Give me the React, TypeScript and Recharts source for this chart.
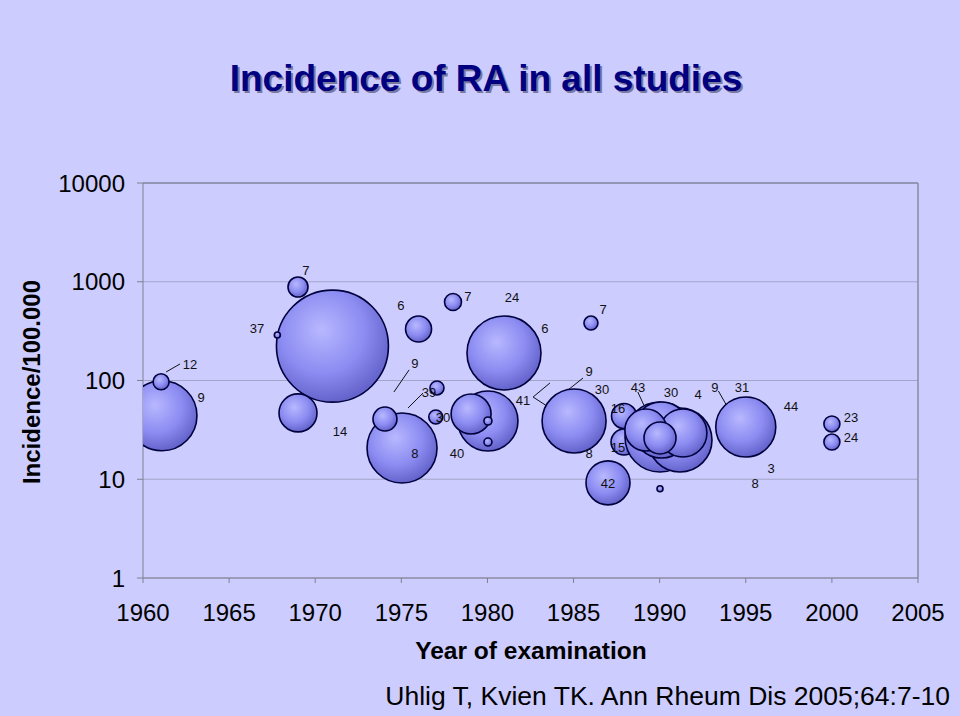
import React from 'react'
import {
  ScatterChart,
  Scatter,
  XAxis,
  YAxis,
  ZAxis,
  CartesianGrid,
  ReferenceLine,
} from 'recharts'

const FONT = '"Liberation Sans", Arial, Helvetica, sans-serif'

// study bubbles: year of examination, incidence per 100.000, relative study size
const bubbleYears = [
  1961.1, 1961.05, 1971.0, 1967.8, 1969.0, 1969.0, 1975.04, 1974.05, 1976.0, 1977.07,
  1977.0, 1978.0, 1980.03, 1979.05, 1980.03, 1980.03, 1980.96, 1986.01, 1985.03, 1987.0,
  1987.93, 1987.93, 1990.02, 1991.18, 1990.1, 1991.35, 1989.2, 1990.02, 1990.02, 1995.0,
  2000.0, 2000.0,
]
const bubbleRates = [
  44, 97, 223, 289, 885, 47, 20.7, 40.7, 332, 84,
  42.7, 624, 38.9, 45.8, 38.9, 23.8, 190, 382, 38.9, 9.2,
  43.7, 23.8, 26.8, 25, 31.5, 29.4, 31.5, 26.2, 8.0, 33.8,
  36.3, 23.8,
]
const bubbleSizes = [
  1225, 64, 3136, 9, 100, 361, 1225, 144, 169, 49,
  49, 72, 900, 400, 16, 16, 1369, 49, 1024, 484,
  156, 169, 1225, 1024, 784, 576, 441, 256, 9, 900,
  64, 64,
]

// number annotations next to the bubbles
const labelTexts = [
  '12', '9', '37', '7', '14', '6', '7', '24', '6', '7',
  '9', '39', '30', '8', '40', '41', '9', '30', '8', '43',
  '30', '4', '16', '15', '42', '9', '31', '44', '3', '8',
  '23', '24',
]
const labelYears = [
  1962.73, 1963.37, 1966.62, 1969.46, 1971.44, 1974.98, 1978.87, 1981.43, 1983.34, 1986.71,
  1975.79, 1976.61, 1977.42, 1975.79, 1978.23, 1982.06, 1985.9, 1986.65, 1985.9, 1988.74,
  1990.66, 1992.23, 1987.58, 1987.58, 1987.0, 1993.21, 1994.78, 1997.63, 1996.47, 1995.54,
  2001.11, 2001.11,
]
const labelRates = [
  147, 68, 340, 1315, 30.8, 582, 717, 701, 340, 530,
  150, 76.5, 42.7, 18.4, 18.4, 63.5, 125, 82, 18.4, 86,
  76.5, 73, 52.7, 21.2, 9.2, 86, 86, 55.2, 13.0, 9.2,
  42.7, 26.8,
]

// leader lines [year1, rate1, year2, rate2]
const leaders = [
  [1961.34, 122, 1962.15, 147],
  [1975.45, 128, 1974.57, 76.5],
  [1976.26, 74.7, 1975.39, 52.7],
  [1975.04, 39.8, 1975.74, 22.7],
  [1982.65, 68, 1983.63, 94.4],
  [1982.65, 68, 1983.63, 52.7],
  [1985.55, 106, 1984.68, 80.2],
  [1985.26, 25.6, 1985.55, 20.7],
  [1988.73, 76.5, 1989.08, 56.5],
  [1987.93, 46.9, 1989.55, 33.8],
  [1993.41, 78.3, 1993.94, 53.9],
]

const yearTicks = [1960, 1965, 1970, 1975, 1980, 1985, 1990, 1995, 2000, 2005]
const rateTicks = [1, 10, 100, 1000, 10000]

const bubbles = bubbleYears.map((year, i) => ({ year, rate: bubbleRates[i], z: bubbleSizes[i] }))
const labels = labelTexts.map((text, i) => ({ year: labelYears[i], rate: labelRates[i], text }))

const W = 960
const H = 716

function Bubble(props: any) {
  const { cx, cy, width, size } = props
  const r = width != null ? width / 2 : Math.sqrt((size || 0) / Math.PI)
  if (cx == null || cy == null || !(r > 0)) return null
  return <circle cx={cx} cy={cy} r={r} fill="url(#bubbleFill)" stroke="#00003c" strokeWidth={1.6} />
}

function LabelMark(props: any) {
  const { cx, cy, payload } = props
  if (cx == null || cy == null) return null
  return (
    <text x={cx} y={cy} dy="0.36em" textAnchor="middle" fontSize={13} fontFamily={FONT} fill="#111">
      {payload.text}
    </text>
  )
}

export default function App() {
  return (
    <div
      style={{
        position: 'absolute',
        left: 0,
        top: 0,
        width: W,
        height: H,
        background: '#ccccff',
        fontFamily: FONT,
        overflow: 'hidden',
      }}
    >
      <svg width={1} height={1} style={{ position: 'absolute', left: 0, top: 0 }}>
        <defs>
          <radialGradient id="bubbleFill" cx="42%" cy="38%" r="62%" fx="40%" fy="35%">
            <stop offset="0%" stopColor="#b8b8ff" />
            <stop offset="60%" stopColor="#8c8cf2" />
            <stop offset="100%" stopColor="#6464cc" />
          </radialGradient>
        </defs>
      </svg>

      <div
        style={{
          position: 'absolute',
          left: 486,
          top: 78,
          transform: 'translate(-50%, -50%)',
          fontSize: 37,
          fontWeight: 'bold',
          color: '#000080',
          whiteSpace: 'nowrap',
          lineHeight: 1,
          textShadow: '2px 2px 0 #7878a0',
        }}
      >
        Incidence of RA in all studies
      </div>

      <ScatterChart width={W} height={H} margin={{ top: 183, right: 42, bottom: 98, left: 23 }}>
        <CartesianGrid vertical={false} stroke="#a4a4c8" strokeWidth={1.2} />
        <XAxis
          type="number"
          dataKey="year"
          domain={[1960, 2005]}
          ticks={yearTicks}
          allowDataOverflow
          height={40}
          stroke="#80808f"
          tickSize={5}
          tickMargin={21}
          tick={{ fontSize: 24, fill: '#000', fontFamily: FONT }}
        />
        <YAxis
          type="number"
          dataKey="rate"
          scale="log"
          domain={[1, 10000]}
          ticks={rateTicks}
          allowDataOverflow
          width={120}
          stroke="#80808f"
          tickSize={6}
          tickMargin={12}
          tick={{ fontSize: 24, fill: '#000', fontFamily: FONT }}
        />
        <ZAxis type="number" dataKey="z" domain={[0, 4000]} range={[0, 4000 * Math.PI]} />
        <ReferenceLine x={2005} stroke="#8a8aa6" strokeWidth={1.5} />
        <ReferenceLine y={10000} stroke="#8a8aa6" strokeWidth={1.5} />
        <Scatter data={bubbles} shape={Bubble} isAnimationActive={false} />
        {leaders.map((l, i) => (
          <ReferenceLine
            key={i}
            segment={[
              { x: l[0], y: l[1] },
              { x: l[2], y: l[3] },
            ]}
            stroke="#111"
            strokeWidth={1}
          />
        ))}
        <Scatter data={labels} shape={LabelMark} isAnimationActive={false} />
      </ScatterChart>

      <div
        style={{
          position: 'absolute',
          left: 32,
          top: 382,
          transform: 'translate(-50%, -50%) rotate(-90deg)',
          fontSize: 24,
          fontWeight: 'bold',
          whiteSpace: 'nowrap',
          lineHeight: 1,
        }}
      >
        Incidence/100.000
      </div>
      <div
        style={{
          position: 'absolute',
          left: 531,
          top: 651,
          transform: 'translate(-50%, -50%)',
          fontSize: 24.5,
          fontWeight: 'bold',
          whiteSpace: 'nowrap',
          lineHeight: 1,
        }}
      >
        Year of examination
      </div>
      <div
        style={{
          position: 'absolute',
          right: 10,
          top: 696,
          transform: 'translateY(-50%)',
          fontSize: 26.5,
          whiteSpace: 'nowrap',
          lineHeight: 1,
        }}
      >
        Uhlig T, Kvien TK. Ann Rheum Dis 2005;64:7-10
      </div>
    </div>
  )
}
